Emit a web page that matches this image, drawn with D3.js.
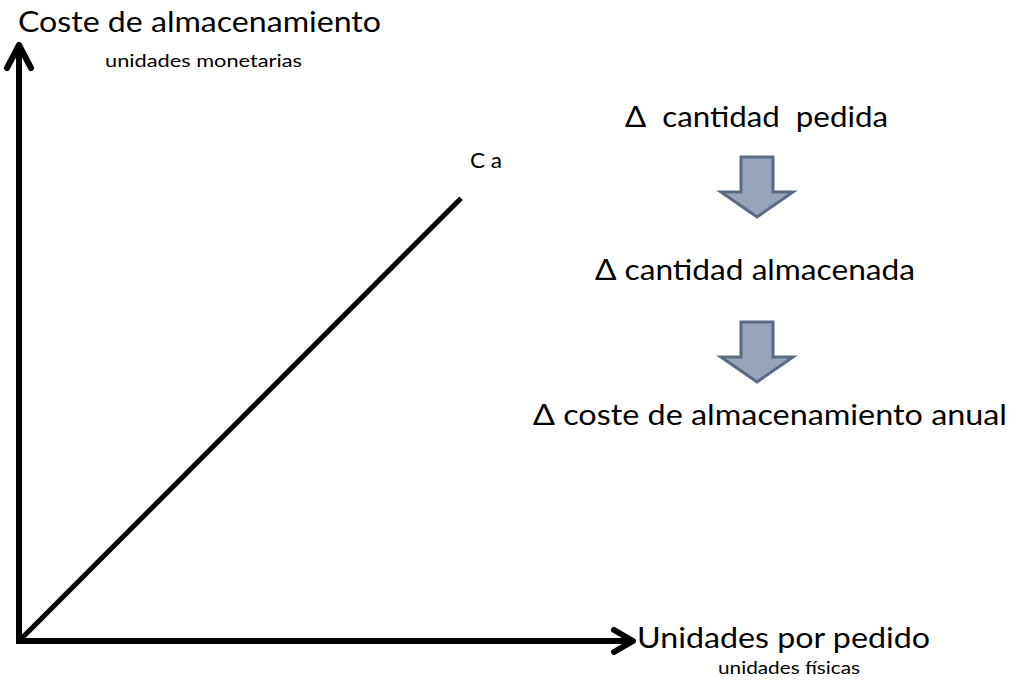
<!DOCTYPE html>
<html>
<head>
<meta charset="utf-8">
<script src="https://cdn.jsdelivr.net/npm/d3@7"></script>
<style>
  body { margin: 0; background: #fff; }
  text { font-family: Lato, "Open Sans", sans-serif; fill: #000; white-space: pre; }
</style>
</head>
<body>
<div id="chart"></div>
<script>
// chart values
var axisTitles = ["Coste de almacenamiento", "Unidades por pedido"];
var axisUnits = ["unidades monetarias", "unidades físicas"];
var costLine = [{q: 0, c: 0}, {q: 0.72, c: 0.743}];
var curveLabel = "C a";
var chainSteps = ["Δ  cantidad  pedida", "Δ cantidad almacenada", "Δ coste de almacenamiento anual"];

var width = 1009, height = 683;
var svg = d3.select("#chart").append("svg").attr("width", width).attr("height", height);

var x = d3.scaleLinear().domain([0, 1]).range([19, 633]);
var y = d3.scaleLinear().domain([0, 1]).range([641, 45]);

// axes (plain arrows, no ticks)
svg.append("line")
    .attr("x1", x(0)).attr("y1", y(0) + 3).attr("x2", x(0)).attr("y2", y(1) + 2)
    .attr("stroke", "#000").attr("stroke-width", 6);
svg.append("line")
    .attr("x1", x(0) - 3).attr("y1", y(0)).attr("x2", x(1) - 2).attr("y2", y(0))
    .attr("stroke", "#000").attr("stroke-width", 6);

// arrow heads
svg.append("path")
    .attr("d", "M" + (x(0) - 12) + "," + (y(1) + 23) + "L" + x(0) + "," + y(1) + "L" + (x(0) + 12) + "," + (y(1) + 23))
    .attr("fill", "none").attr("stroke", "#000").attr("stroke-width", 6)
    .attr("stroke-linecap", "round").attr("stroke-linejoin", "round");
svg.append("path")
    .attr("d", "M" + (x(1) - 19) + "," + (y(0) - 11) + "L" + x(1) + "," + y(0) + "L" + (x(1) - 19) + "," + (y(0) + 11))
    .attr("fill", "none").attr("stroke", "#000").attr("stroke-width", 6)
    .attr("stroke-linecap", "round").attr("stroke-linejoin", "round");

// storage cost line
var line = d3.line().x(function(d) { return x(d.q); }).y(function(d) { return y(d.c); });
svg.append("path")
    .datum(costLine)
    .attr("d", line)
    .attr("fill", "none").attr("stroke", "#000").attr("stroke-width", 5);

svg.append("text")
    .attr("x", 470).attr("y", 168)
    .attr("font-size", 22)
    .attr("textLength", 32).attr("lengthAdjust", "spacingAndGlyphs")
    .text(curveLabel);

// axis titles
svg.append("text")
    .attr("x", 18).attr("y", 32)
    .attr("font-size", 28)
    .attr("textLength", 363).attr("lengthAdjust", "spacingAndGlyphs")
    .text(axisTitles[0]);
svg.append("text")
    .attr("x", 105).attr("y", 67)
    .attr("font-size", 17)
    .attr("textLength", 197).attr("lengthAdjust", "spacingAndGlyphs")
    .text(axisUnits[0]);
svg.append("text")
    .attr("x", 637).attr("y", 648)
    .attr("font-size", 28)
    .attr("textLength", 293).attr("lengthAdjust", "spacingAndGlyphs")
    .text(axisTitles[1]);
svg.append("text")
    .attr("x", 718).attr("y", 674)
    .attr("font-size", 17)
    .attr("textLength", 142).attr("lengthAdjust", "spacingAndGlyphs")
    .text(axisUnits[1]);

// chain of effects
var stepPos = [{x: 625, y: 127, w: 263}, {x: 595, y: 280, w: 320}, {x: 533, y: 425, w: 474}];
svg.selectAll("text.step")
    .data(chainSteps)
    .enter().append("text")
    .attr("class", "step")
    .attr("x", function(d, i) { return stepPos[i].x; })
    .attr("y", function(d, i) { return stepPos[i].y; })
    .attr("font-size", 28)
    .attr("textLength", function(d, i) { return stepPos[i].w; })
    .attr("lengthAdjust", "spacingAndGlyphs")
    .text(function(d) { return d; });

// block arrows between steps
var arrowTops = [157, 322];
var cx = 757;
function blockArrow(top) {
    var sw = 16, hw = 36, sh = 35, hh = 25;
    return "M" + (cx - sw) + "," + top +
        "L" + (cx + sw) + "," + top +
        "L" + (cx + sw) + "," + (top + sh) +
        "L" + (cx + hw) + "," + (top + sh) +
        "L" + cx + "," + (top + sh + hh) +
        "L" + (cx - hw) + "," + (top + sh) +
        "L" + (cx - sw) + "," + (top + sh) + "Z";
}
svg.selectAll("path.block")
    .data(arrowTops)
    .enter().append("path")
    .attr("class", "block")
    .attr("d", blockArrow)
    .attr("fill", "#98a4bc")
    .attr("stroke", "#5a6a82")
    .attr("stroke-width", 3)
    .attr("stroke-linejoin", "miter");
</script>
</body>
</html>
